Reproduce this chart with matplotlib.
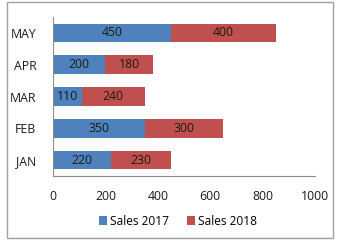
import matplotlib
matplotlib.use("Agg")
import matplotlib.pyplot as plt
from matplotlib.patches import Rectangle

months = ["JAN", "FEB", "MAR", "APR", "MAY"]
sales_2017 = [220, 350, 110, 200, 450]
sales_2018 = [230, 300, 240, 180, 400]
xticks = [0, 200, 400, 600, 800, 1000]

plt.rcParams['font.family'] = ['Open Sans', 'DejaVu Sans']

fig = plt.figure(figsize=(3.39, 2.43), dpi=100)
fig.patch.set_facecolor('white')
fig.add_artist(Rectangle((7/339, 5/243), 326/339, 236/243, transform=fig.transFigure,
                         fill=False, edgecolor='#a0a0a0', linewidth=1.0))

ax = fig.add_axes([53/339, 67/243, 262/339, 159/243])
blue = '#4F81BD'
red = '#C0504D'
y = range(len(months))
b1 = ax.barh(y, sales_2017, height=0.58, color=blue, label='Sales 2017')
b2 = ax.barh(y, sales_2018, left=sales_2017, height=0.58, color=red, label='Sales 2018')
for rect, v in zip(b1, sales_2017):
    ax.text(rect.get_x() + rect.get_width()/2, rect.get_y() + rect.get_height()/2, str(v),
            ha='center', va='center', fontsize=8.8, color='#1a1a1a')
for rect, v in zip(b2, sales_2018):
    ax.text(rect.get_x() + rect.get_width()/2, rect.get_y() + rect.get_height()/2, str(v),
            ha='center', va='center', fontsize=8.8, color='#1a1a1a')

ax.set_xlim(0, 1000)
ax.set_ylim(-0.5, 4.5)
ax.set_xticks(xticks)
ax.set_xticklabels([str(t) for t in xticks])
ax.set_yticks(list(y))
ax.set_yticklabels(months)
ax.tick_params(axis='both', length=0, labelsize=8.8, colors='#1a1a1a')
ax.tick_params(axis='x', pad=10)
ax.tick_params(axis='y', pad=12)
for s in ['top', 'right']:
    ax.spines[s].set_visible(False)
for s in ['left', 'bottom']:
    ax.spines[s].set_color('#8c8c8c')
    ax.spines[s].set_linewidth(0.8)

fig.legend(handles=[b1, b2], loc='center', bbox_to_anchor=(178/339, 1 - 221/243), ncol=2,
           frameon=False, fontsize=8.6, handlelength=0.7, handleheight=0.7,
           handletextpad=0.25, columnspacing=1.5)

fig.savefig('out.png', dpi=100, facecolor='white')
